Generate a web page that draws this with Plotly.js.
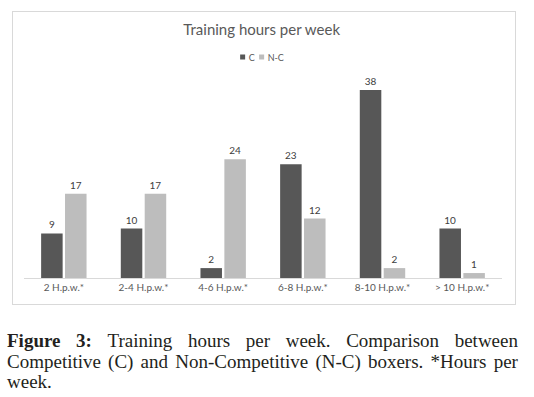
<!DOCTYPE html>
<html>
<head>
<meta charset="utf-8">
<script src="https://cdn.plot.ly/plotly-3.0.1.min.js"></script>
<style>
  html, body { margin: 0; padding: 0; background: #fff; }
  #wrap { position: relative; width: 534px; height: 397px; overflow: hidden; }
  #chart { position: absolute; left: 0; top: 0; width: 534px; height: 397px; }
  #frame { position: absolute; left: 12px; top: 11px; width: 502px; height: 292px; border: 1px solid #d9d9d9; pointer-events: none; }
  .capline { position: absolute; left: 7px; width: 511px; height: 20.5px; display: flex; justify-content: space-between;
             font-family: "Liberation Serif", serif; font-size: 19px; line-height: 20.5px; color: #231f20; white-space: nowrap; }
  .capline.last { justify-content: flex-start; }
  .capline span { display: inline-block; }
</style>
</head>
<body>
<div id="wrap">
  <div id="chart"></div>
  <div id="frame"></div>
  <div class="capline" style="top:331px"><span><b>Figure</b></span><span><b>3:</b></span><span>Training</span><span>hours</span><span>per</span><span>week.</span><span>Comparison</span><span>between</span></div>
  <div class="capline" style="top:351.5px"><span>Competitive</span><span>(C)</span><span>and</span><span>Non-Competitive</span><span>(N-C)</span><span>boxers.</span><span>*Hours</span><span>per</span></div>
  <div class="capline last" style="top:372px"><span>week.</span></div>
</div>
<script>
const categories = ["2 H.p.w.*", "2-4 H.p.w.*", "4-6 H.p.w.*", "6-8 H.p.w.*", "8-10 H.p.w.*", "> 10 H.p.w.*"];
const competitive = [9, 10, 2, 23, 38, 10];
const nonCompetitive = [17, 17, 24, 12, 2, 1];
const seriesNames = ["C", "N-C"];

const labelFont = {family: "Lato, 'Open Sans', sans-serif", size: 10, color: "#404040"};

const traces = [
  {type: "bar", name: seriesNames[0], x: categories, y: competitive,
   marker: {color: "#575757"}, text: competitive.map(String), textposition: "outside",
   textfont: labelFont, cliponaxis: false},
  {type: "bar", name: seriesNames[1], x: categories, y: nonCompetitive,
   marker: {color: "#bdbdbd"}, text: nonCompetitive.map(String), textposition: "outside",
   textfont: labelFont, cliponaxis: false}
];

const layout = {
  width: 534, height: 397,
  margin: {l: 24, r: 32, t: 80, b: 119},
  paper_bgcolor: "rgba(0,0,0,0)", plot_bgcolor: "rgba(0,0,0,0)",
  barmode: "group", bargap: 0.4, bargroupgap: 0.1,
  title: {text: "Training hours per week", x: 0.49, xanchor: "center", y: 0.925, yanchor: "middle",
          font: {family: "Lato, 'Open Sans', sans-serif", size: 15, color: "#595959"}},
  showlegend: true,
  legend: {orientation: "h", x: 0.498, xanchor: "center", y: 1.115, yanchor: "middle",
           font: {family: "Lato, 'Open Sans', sans-serif", size: 9, color: "#595959"},
           itemwidth: 30, traceorder: "normal"},
  xaxis: {showline: true, linecolor: "#d9d9d9", linewidth: 1, ticks: "", showgrid: false,
          tickfont: {family: "Lato, 'Open Sans', sans-serif", size: 10, color: "#595959"}},
  yaxis: {range: [0, 40], visible: false, showgrid: false, zeroline: false}
};

Plotly.newPlot("chart", traces, layout, {displayModeBar: false, staticPlot: true}).then(function (gd) {
  // compact Excel-style legend: small swatches close to their labels
  const items = gd.querySelectorAll(".legend .traces");
  const spacing = [0, 19];
  items.forEach(function (g, i) {
    const m = /translate\(\s*([-\d.]+)[ ,]+([-\d.]+)\s*\)/.exec(g.getAttribute("transform") || "");
    const y = m ? parseFloat(m[2]) : 0;
    g.setAttribute("transform", "translate(" + spacing[i] + "," + y + ")");
    g.querySelectorAll(".legendpoints path").forEach(function (p) {
      p.setAttribute("d", "M2.5,2.5H-2.5V-2.5H2.5Z");
      p.setAttribute("transform", "translate(2.5,0)");
      p.style.strokeWidth = "0";
    });
    const t = g.querySelector(".legendtext");
    if (t) { t.setAttribute("x", "8.5"); t.setAttribute("text-anchor", "start"); }
    const r = g.querySelector(".legendtoggle");
    if (r) r.setAttribute("width", "1");
  });
  // recentre the legend entries horizontally on the target centre
  let minX = Infinity, maxX = -Infinity, cy = 0;
  items.forEach(function (g) {
    g.querySelectorAll(".legendpoints path, .legendtext").forEach(function (el) {
      const b = el.getBoundingClientRect();
      minX = Math.min(minX, b.left); maxX = Math.max(maxX, b.right);
    });
    const tb = g.querySelector(".legendtext").getBoundingClientRect();
    cy = tb.top + tb.height / 2;
  });
  const dx = 262 - (minX + maxX) / 2;
  const dy = 57 - cy;
  items.forEach(function (g, i) {
    const m = /translate\(\s*([-\d.]+)[ ,]+([-\d.]+)\s*\)/.exec(g.getAttribute("transform"));
    g.setAttribute("transform", "translate(" + (parseFloat(m[1]) + dx) + "," + (parseFloat(m[2]) + dy) + ")");
  });
  const bg = gd.querySelector(".legend .bg");
  if (bg) bg.setAttribute("width", "0");
});
</script>
</body>
</html>
